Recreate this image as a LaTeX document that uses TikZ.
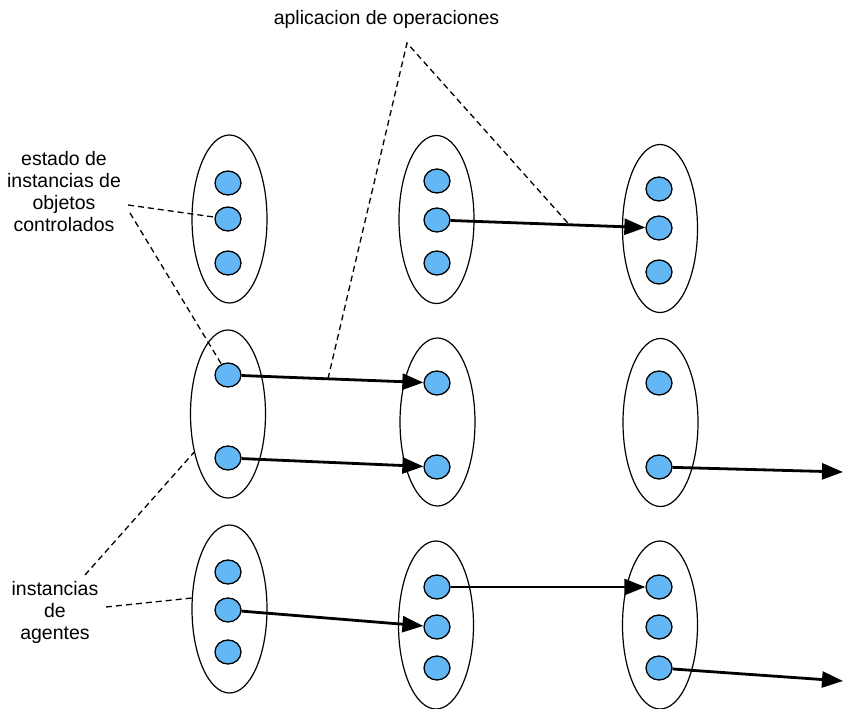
\documentclass[tikz,border=0pt]{standalone}
\usepackage{fontspec}
\setmainfont{Liberation Sans}
\usetikzlibrary{shapes.geometric,arrows.meta}
\definecolor{dotblue}{RGB}{99,183,244}
\begin{document}
\begin{tikzpicture}[x=1pt,y=-1pt,
  group/.style={draw=black,line width=1.2pt,shape=ellipse,minimum width=75pt,minimum height=168pt,inner sep=0pt},
  inst/.style={draw=black,fill=dotblue,line width=1.3pt,shape=ellipse,minimum width=26pt,minimum height=24pt,inner sep=0pt},
  arr/.style={line width=2.8pt,-{Triangle[length=21pt,width=16pt]}},
  note/.style={dashed,dash pattern=on 6pt off 4pt,line width=1.3pt},
  lbl/.style={font=\fontsize{19.5}{22}\selectfont,align=center,inner sep=0pt}]
\useasboundingbox (0,0) rectangle (843,709);

% groups of instances
\node[group] (g11) at (229.5,219) {};
\node[group] (g12) at (436.5,219.5) {};
\node[group] (g13) at (660,228.5) {};
\node[group] (g21) at (228,414) {};
\node[group] (g22) at (437.5,422) {};
\node[group] (g23) at (660.5,422.5) {};
\node[group] (g31) at (229.5,609) {};
\node[group] (g32) at (436,625) {};
\node[group] (g33) at (660,625) {};

% instances
\node[inst] (c11a) at (228,183) {};
\node[inst] (c11b) at (228,219) {};
\node[inst] (c11c) at (228,263) {};
\node[inst] (c12a) at (437,181) {};
\node[inst] (c12b) at (437,220) {};
\node[inst] (c12c) at (437,263) {};
\node[inst] (c13a) at (659,189) {};
\node[inst] (c13b) at (659,228) {};
\node[inst] (c13c) at (659,272) {};
\node[inst] (c21a) at (228,375) {};
\node[inst] (c21b) at (228,458) {};
\node[inst] (c22a) at (437,383) {};
\node[inst] (c22b) at (437,467) {};
\node[inst] (c23a) at (659,383) {};
\node[inst] (c23b) at (659,467) {};
\node[inst] (c31a) at (228,572) {};
\node[inst] (c31b) at (228,610) {};
\node[inst] (c31c) at (228,652) {};
\node[inst] (c32a) at (437,587) {};
\node[inst] (c32b) at (437,627) {};
\node[inst] (c32c) at (437,668) {};
\node[inst] (c33a) at (659,587) {};
\node[inst] (c33b) at (659,627) {};
\node[inst] (c33c) at (659,668) {};

% free ends of outgoing transitions
\coordinate (out1) at (843,472);
\coordinate (out2) at (843,681);

% transitions
\draw[arr] (c12b) -- node[coordinate,pos=0.61] (op2) {} (c13b);
\draw[arr] (c21a) -- node[coordinate,pos=0.475] (op1) {} (c22a);
\draw[arr] (c21b) -- (c22b);
\draw[arr] (c23b) -- (out1);
\draw[arr] (c31b) -- (c32b);
\draw[arr] (c32a) -- (c33a);
\draw[arr] (c33c) -- (out2);

% labels (base anchor sits on the last line)
\node[lbl,anchor=base] (tops) at (386.5,25) {aplicacion de operaciones};
\node[lbl,anchor=base] (state) at (64,231) {estado de\\instancias de\\objetos\\controlados};
\node[lbl,anchor=base] (agents) at (55,639) {instancias\\de\\agentes};

% label pointers
\coordinate (apex) at (407,43);
\coordinate (s1) at (128,205);
\coordinate (s2) at (130,213);
\coordinate (a1) at (85,575);
\coordinate (a2) at (106,607);
\coordinate (a2end) at (192,598);
\draw[note] (op1) -- (apex) -- (op2);
\draw[note] (s1) -- (c11b);
\draw[note] (s2) -- (c21a);
\draw[note] (a1) -- (g21);
\draw[note] (a2) -- (a2end);
\end{tikzpicture}
\end{document}
